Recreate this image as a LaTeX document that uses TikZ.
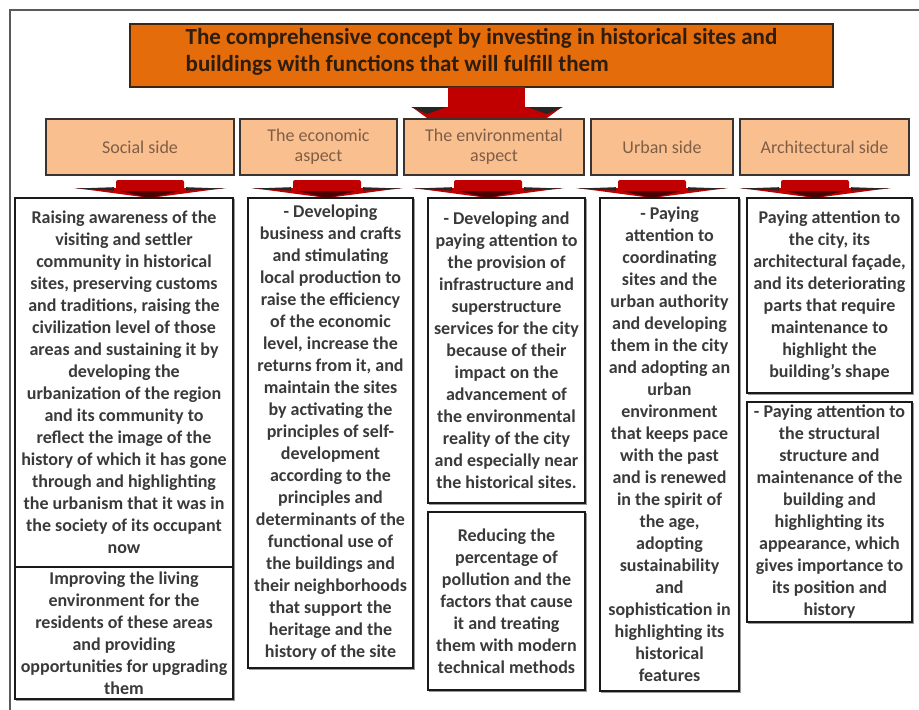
\documentclass[tikz,border=0pt]{standalone}
\usepackage{fontspec}
\setmainfont{Carlito}
\definecolor{titleorange}{HTML}{E46C0A}
\definecolor{titleborder}{HTML}{3F2510}
\definecolor{titletext}{HTML}{2E1C0C}
\definecolor{sidefill}{HTML}{FABF8F}
\definecolor{sideborder}{HTML}{3A3330}
\definecolor{sidetext}{HTML}{7E5E46}
\definecolor{bodytext}{HTML}{3A3A3A}
\definecolor{arrowred}{HTML}{C00000}
\definecolor{framegray}{HTML}{5A5A5A}
\begin{document}
\begin{tikzpicture}[x=1pt,y=-1pt,
  titlebox/.style={draw=titleborder, line width=2pt, fill=titleorange, text=titletext,
    font=\bfseries\fontsize{23}{27}\selectfont, align=left, inner sep=0pt},
  sidebox/.style={draw=sideborder, line width=2pt, fill=sidefill, text=sidetext,
    font=\fontsize{18}{20}\selectfont, align=center, inner sep=0pt},
  bodybox/.style={draw=black!90, line width=2.3pt, fill=white, text=bodytext,
    font=\bfseries\fontsize{18}{22}\selectfont, align=center, inner sep=0pt,
    preaction={draw=black!40, line width=1.5pt, transform canvas={shift={(1.6pt,-1.6pt)}}}},
  smallarrow/.pic={
    \fill[arrowred] (-75,8) -- (75,8) -- (0,18) -- cycle;
    \fill[black!85] (-76,8.6) -- (-36,7.2) -- (-36,10.6) -- cycle;
    \fill[black!85] (76,8.6) -- (36,7.2) -- (36,10.6) -- cycle;
    \fill[black!60!arrowred] (-30,11) -- (30,11) -- (0,18) -- cycle;
    \fill[arrowred, rounded corners=2pt] (-34,0) rectangle (34,10);
  },
  bigarrow/.pic={
    \fill[arrowred] (-39,0) rectangle (38,21);
    \fill[arrowred] (-75,20) -- (75,20) -- (0,75) -- cycle;
    \fill[black!85] (-76,20) -- (-40,20) -- (-60,27) -- cycle;
    \fill[black!85] (76,20) -- (40,20) -- (60,27) -- cycle;
  }]
\useasboundingbox (0,0) rectangle (919,710);
\fill[white] (0,0) rectangle (919,710);
\draw[framegray, line width=1.3pt] (919,10) -- (10,10) -- (10,710);

% title
\node[titlebox, minimum width=703pt, minimum height=63pt, text depth=12pt] (title) at (481.5,55.5)
  {The comprehensive concept by investing in historical sites and\\buildings with functions that will fulfill them};

% big arrow from title to environmental aspect
\pic at (487,87) {bigarrow};

% second row
\node[sidebox, minimum width=188pt, minimum height=56pt] (social) at (140,147) {Social side};
\node[sidebox, minimum width=157pt, minimum height=56pt] (economic) at (318.5,147) {The economic\\aspect};
\node[sidebox, minimum width=180pt, minimum height=56pt] (environ) at (494,147) {The environmental\\aspect};
\node[sidebox, minimum width=142pt, minimum height=56pt] (urban) at (662,147) {Urban side};
\node[sidebox, minimum width=169pt, minimum height=56pt] (archi) at (824.5,147) {Architectural side};

% small arrows
\pic at (150,180) {smallarrow};
\pic at (327,180) {smallarrow};
\pic at (488,180) {smallarrow};
\pic at (652,180) {smallarrow};
\pic at (815,180) {smallarrow};

% body boxes
\node[bodybox, minimum width=218pt, minimum height=369pt] (soc1) at (124,382.5)
  {Raising awareness of the\\visiting and settler\\community in historical\\sites, preserving customs\\and traditions, raising the\\civilization level of those\\areas and sustaining it by\\developing the\\urbanization of the region\\and its community to\\reflect the image of the\\history of which it has gone\\through and highlighting\\the urbanism that it was in\\the society of its occupant\\now};
\node[bodybox, minimum width=218pt, minimum height=132pt] (soc2) at (124,633)
  {Improving the living\\environment for the\\residents of these areas\\and providing\\opportunities for upgrading\\them};
\node[bodybox, minimum width=165pt, minimum height=470pt] (eco1) at (330.5,433)
  {- Developing\\business and crafts\\and stimulating\\local production to\\raise the efficiency\\of the economic\\level, increase the\\returns from it, and\\maintain the sites\\by activating the\\principles of self-\\development\\according to the\\principles and\\determinants of the\\functional use of\\the buildings and\\their neighborhoods\\that support the\\heritage and the\\history of the site};
\node[bodybox, minimum width=157pt, minimum height=305pt] (env1) at (506.5,350.5)
  {- Developing and\\paying attention to\\the provision of\\infrastructure and\\superstructure\\services for the city\\because of their\\impact on the\\advancement of\\the environmental\\reality of the city\\and especially near\\the historical sites.};
\node[bodybox, minimum width=157pt, minimum height=178pt] (env2) at (506.5,601)
  {Reducing the\\percentage of\\pollution and the\\factors that cause\\it and treating\\them with modern\\technical methods};
\node[bodybox, minimum width=139pt, minimum height=493pt] (urb1) at (669.5,444.5)
  {- Paying\\attention to\\coordinating\\sites and the\\urban authority\\and developing\\them in the city\\and adopting an\\urban\\environment\\that keeps pace\\with the past\\and is renewed\\in the spirit of\\the age,\\adopting\\sustainability\\and\\sophistication in\\highlighting its\\historical\\features};
\node[bodybox, minimum width=165pt, minimum height=195pt] (arc1) at (829.5,295.5)
  {Paying attention to\\the city, its\\architectural façade,\\and its deteriorating\\parts that require\\maintenance to\\highlight the\\building’s shape};
\node[bodybox, minimum width=165pt, minimum height=220pt] (arc2) at (829.5,512)
  {- Paying attention to\\the structural\\structure and\\maintenance of the\\building and\\highlighting its\\appearance, which\\gives importance to\\its position and\\history};
\end{tikzpicture}
\end{document}
